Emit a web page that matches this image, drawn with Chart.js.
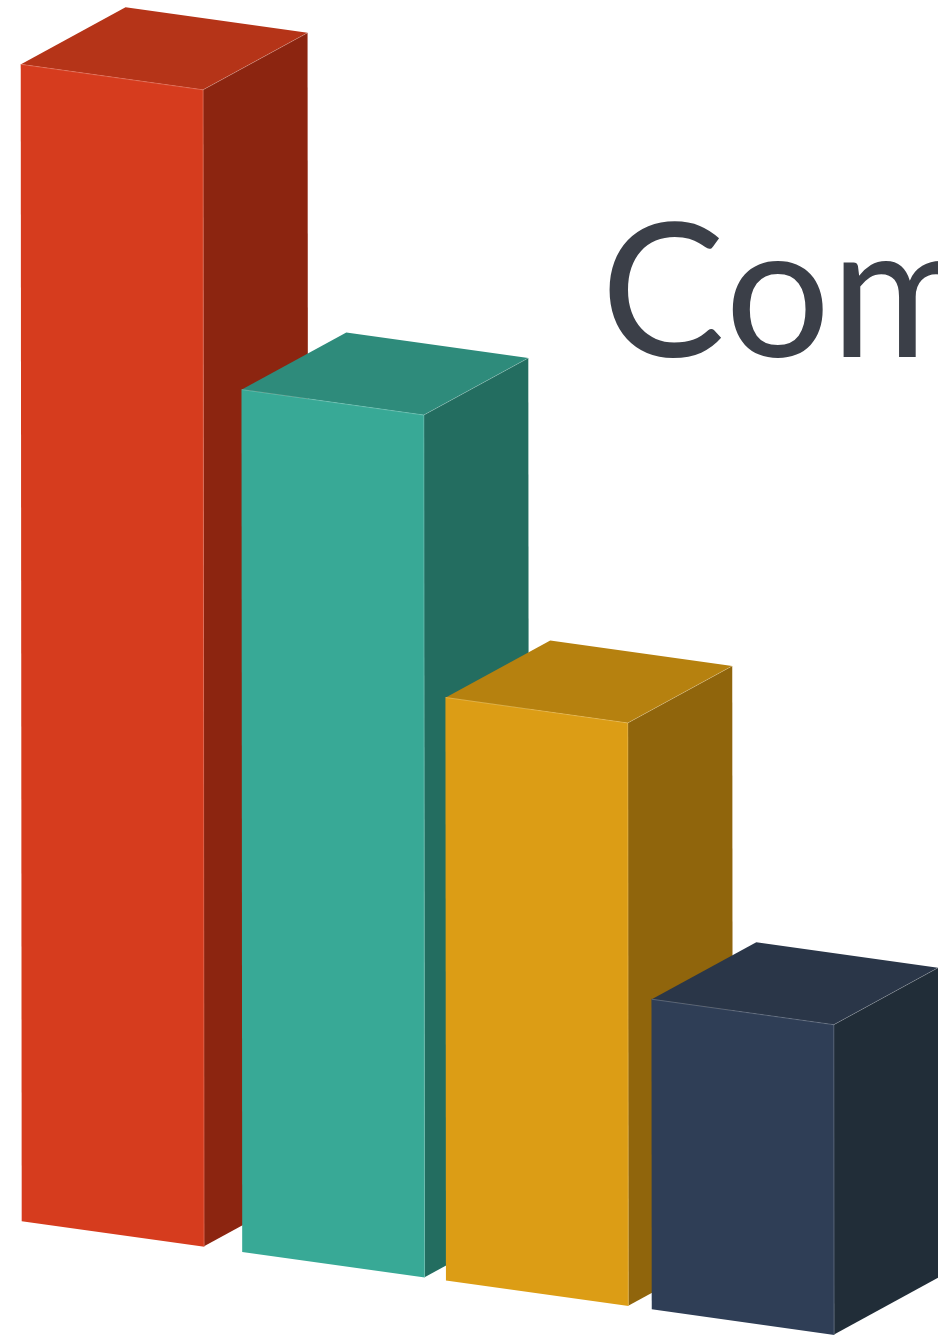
<!DOCTYPE html>
<html lang="en">
<head>
<meta charset="UTF-8">
<title>Com</title>
<script src="https://cdn.jsdelivr.net/npm/chart.js"></script>
<style>
    html, body { margin: 0; padding: 0; background: #fff; overflow: hidden; }
    canvas { display: block; }
</style>
</head>
<body>
<canvas id="barChart" width="938" height="1338"></canvas>
<script>
const categories = [1, 2.05, 3.02, 4];
const values = [99.96, 74.52, 50.37, 26.78];
const frontColors = ['#D63C1E', '#38A996', '#DC9D15', '#2F3E56'];
const sideColors = ['#8C2510', '#236D60', '#90650C', '#212D38'];
const topColors = ['#B53418', '#2E8B7B', '#B6810F', '#2A3648'];
const titleText = 'Com';

// oblique projection: the ground line falls to the right, bars lean very slightly
const SHEAR_Y = 0.14;
const SHEAR_X = 0.00087;
const DEPTH_X = 104.5;
const DEPTH_Y = -57;

function project(x, y) {
    return [x + SHEAR_X * y, y + SHEAR_Y * x];
}

function fillQuad(ctx, pts, color) {
    ctx.fillStyle = color;
    ctx.beginPath();
    pts.forEach((p, i) => i ? ctx.lineTo(p[0], p[1]) : ctx.moveTo(p[0], p[1]));
    ctx.closePath();
    ctx.fill();
}

// pale hairline where two faces of a bar meet
function strokeSeams(ctx, a, joint, b, c) {
    ctx.strokeStyle = 'rgba(255,255,255,0.25)';
    ctx.lineWidth = 0.8;
    ctx.beginPath();
    ctx.moveTo(a[0], a[1]);
    ctx.lineTo(joint[0], joint[1]);
    ctx.lineTo(b[0], b[1]);
    ctx.moveTo(joint[0], joint[1]);
    ctx.lineTo(c[0], c[1]);
    ctx.stroke();
}

// bar controller that adds top and side faces behind each sheared front face
class ProjectedBarController extends Chart.BarController {
    draw() {
        const ctx = this.chart.ctx;
        const ds = this.getDataset();
        this.getMeta().data.forEach((bar, i) => {
            const half = bar.width / 2;
            const tl = project(bar.x - half, bar.y);
            const tr = project(bar.x + half, bar.y);
            const br = project(bar.x + half, bar.base);
            const back = p => [p[0] + DEPTH_X, p[1] + DEPTH_Y];

            fillQuad(ctx, [tr, br, back(br), back(tr)], ds.sideColors[i]);
            fillQuad(ctx, [tl, tr, back(tr), back(tl)], ds.topColors[i]);

            ctx.save();
            ctx.transform(1, SHEAR_Y, SHEAR_X, 1, 0, 0);
            bar.draw(ctx);
            ctx.restore();

            strokeSeams(ctx, tl, tr, br, back(tr));
        });
    }
}
ProjectedBarController.id = 'projectedBar';
ProjectedBarController.defaults = Chart.BarController.defaults;
ProjectedBarController.overrides = Chart.BarController.overrides;
Chart.register(ProjectedBarController);

const titlePlugin = {
    id: 'sideTitle',
    afterDraw(chart) {
        const ctx = chart.ctx;
        ctx.save();
        ctx.font = '186px Lato';
        ctx.fontKerning = 'none';
        ctx.fillStyle = '#3B3F48';
        ctx.textBaseline = 'alphabetic';
        ctx.fillText(titleText, 600.7, 357);
        ctx.restore();
    }
};

new Chart(document.getElementById('barChart'), {
    type: 'projectedBar',
    data: {
        datasets: [{
            data: categories.map((c, i) => ({ x: c, y: values[i] })),
            backgroundColor: frontColors,
            sideColors: sideColors,
            topColors: topColors,
            borderWidth: 0,
            barThickness: 182,
            clip: false
        }]
    },
    options: {
        responsive: false,
        animation: false,
        layout: { padding: 0 },
        plugins: { legend: { display: false }, tooltip: { enabled: false }, title: { display: false } },
        scales: {
            x: { type: 'linear', display: false, offset: false, min: 0.4667, max: 4.9333 },
            y: { type: 'linear', display: false, min: -10.38, max: 105.27 }
        }
    },
    plugins: [titlePlugin]
});
</script>
</body>
</html>
